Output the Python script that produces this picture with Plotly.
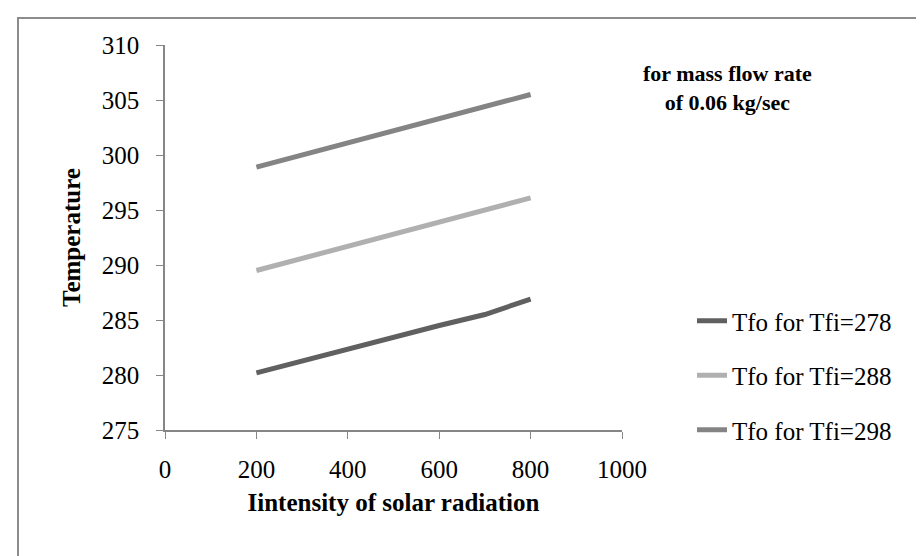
import plotly.graph_objects as go

radiation = [200, 300, 400, 500, 600, 700, 800]
tfo_278 = [280.2, 281.3, 282.4, 283.4, 284.5, 285.5, 286.9]
tfo_288 = [289.5, 290.6, 291.7, 292.8, 293.9, 295.0, 296.1]
tfo_298 = [298.9, 300.0, 301.1, 302.2, 303.3, 304.4, 305.5]
series_names = ["Tfo for Tfi=278", "Tfo for Tfi=288", "Tfo for Tfi=298"]
colors = ["#606060", "#b0b0b0", "#848484"]

FONT = "Liberation Serif, Times New Roman, serif"

fig = go.Figure()
for name, vals, col in zip(series_names, [tfo_278, tfo_288, tfo_298], colors):
    fig.add_trace(go.Scatter(x=radiation, y=vals, mode="lines", name=name,
                             legendgroup=name,
                             line=dict(color=col, width=5)))

W, H = 924, 556
L, R, T, B = 157, 310, 37, 134
pw, ph = W - L - R, H - T - B

def px(x):
    return (x - L) / pw

def py(y):
    return (H - B - y) / ph

fig.update_layout(
    width=W, height=H,
    margin=dict(l=L, r=R, t=T, b=B),
    paper_bgcolor="white", plot_bgcolor="white",
    font=dict(family=FONT, size=25, color="black"),
    showlegend=True,
    legend=dict(x=px(684), y=py(290), xanchor="left", yanchor="top",
                traceorder="grouped", tracegroupgap=19,
                font=dict(family=FONT, size=25, color="black"),
                bgcolor="rgba(0,0,0,0)"),
    xaxis=dict(range=[0, 1000], tickvals=[0, 200, 400, 600, 800, 1000],
               showgrid=False, zeroline=False, showline=True,
               linecolor="#868686", linewidth=1.5,
               ticks="outside", ticklen=7, tickcolor="#868686",
               ticklabelstandoff=9,
               tickfont=dict(family=FONT, size=25),
               title=dict(text="<b>Iintensity of solar radiation</b>",
                          font=dict(family=FONT, size=25), standoff=12)),
    yaxis=dict(range=[275, 310], tickvals=[275, 280, 285, 290, 295, 300, 305, 310],
               showgrid=False, zeroline=False, showline=True,
               linecolor="#868686", linewidth=1.5,
               ticks="outside", ticklen=7, tickcolor="#868686",
               ticklabelstandoff=12,
               tickfont=dict(family=FONT, size=25),
               title=dict(text="<b>Temperature</b>",
                          font=dict(family=FONT, size=25), standoff=14)),
    annotations=[dict(text="<b>for mass flow rate<br>of 0.06 kg/sec</b>",
                      xref="paper", yref="paper", x=px(719), y=py(80),
                      xanchor="center", yanchor="middle", showarrow=False,
                      align="center",
                      font=dict(family=FONT, size=22, color="black"))],
    shapes=[dict(type="rect", xref="paper", yref="paper",
                 x0=px(10), x1=px(914), y0=py(600), y1=py(10),
                 line=dict(color="#8c8c8c", width=2), layer="below")],
)

fig.write_html("out.html")
